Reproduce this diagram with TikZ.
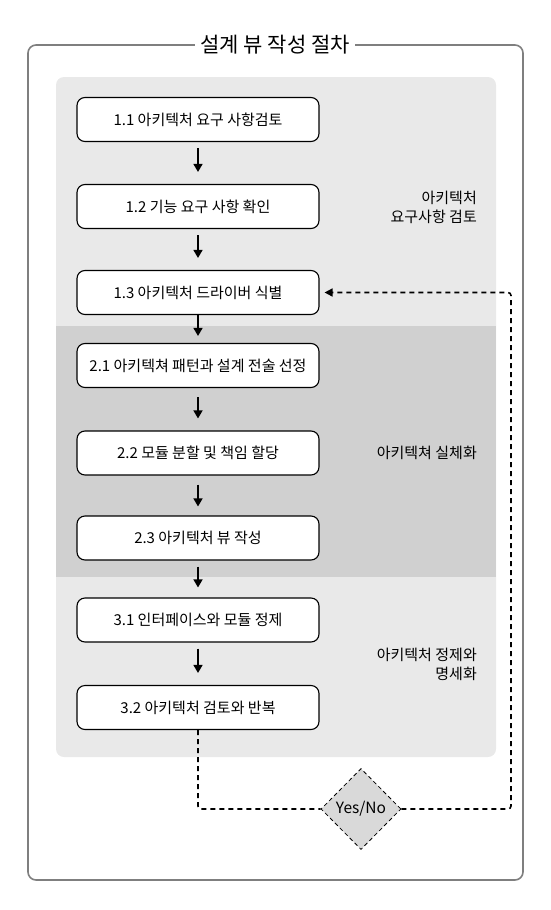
\documentclass[tikz,border=0pt]{standalone}
\usepackage{fontspec}
\setmainfont{Noto Sans CJK KR}
\usetikzlibrary{shapes.geometric,arrows.meta}
\definecolor{framegray}{HTML}{7F7F7F}
\definecolor{bandlight}{HTML}{E9E9E9}
\definecolor{banddark}{HTML}{D0D0D0}
\definecolor{diafill}{HTML}{D9D9D9}
\tikzset{
  stepbox/.style={draw=black, line width=1.1pt, rounded corners=8pt, fill=white,
    minimum width=242pt, minimum height=44pt, inner sep=0pt,
    font=\fontsize{15}{18}\selectfont},
  arr/.style={line width=1.4pt, -{Triangle[length=8pt,width=9pt]},
    shorten <=6pt, shorten >=12pt},
  fb/.style={line width=1.6pt, dash pattern=on 5pt off 4pt, rounded corners=3pt},
  seclabel/.style={anchor=east, align=right, inner sep=0pt,
    font=\fontsize{15}{19}\selectfont},
}
\begin{document}
\begin{tikzpicture}[x=1pt,y=-1pt]
\useasboundingbox (0,0) rectangle (551,910);
% outer frame
\draw[framegray, line width=1.6pt, rounded corners=8pt] (28,45) rectangle (523,880);
\node[fill=white, inner xsep=5pt, inner ysep=2pt, font=\fontsize{21}{24}\selectfont] (title) at (275,45) {설계 뷰 작성 절차};
% bands
\fill[bandlight, rounded corners=8pt] (56,77) rectangle (496,757);
\fill[banddark] (56,326) rectangle (496,577);
% section labels
\node[seclabel] (lab1) at (477,207) {아키텍처\\요구사항 검토};
\node[seclabel] (lab2) at (477,453) {아키텍쳐 실체화};
\node[seclabel] (lab3) at (477,664) {아키텍처 정제와\hspace{5pt}\\명세화};
% steps
\node[stepbox] (b11) at (198,119.5) {1.1 아키텍처 요구 사항검토};
\node[stepbox] (b12) at (198,206.5) {1.2 기능 요구 사항 확인};
\node[stepbox] (b13) at (198,292.5) {1.3 아키텍처 드라이버 식별};
\node[stepbox] (b21) at (198,365.5) {2.1 아키텍쳐 패턴과 설계 전술 선정};
\node[stepbox] (b22) at (198,453) {2.2 모듈 분할 및 책임 할당};
\node[stepbox] (b23) at (198,538) {2.3 아키텍처 뷰 작성};
\node[stepbox] (b31) at (198,620) {3.1 인터페이스와 모듈 정제};
\node[stepbox] (b32) at (198,707.5) {3.2 아키텍처 검토와 반복};
% arrows
\draw[arr] (b11) -- (b12);
\draw[arr] (b12) -- (b13);
\draw[arr, shorten <=0pt, shorten >=7pt] (b13) -- (b21);
\draw[arr, shorten <=9pt] (b21) -- (b22);
\draw[arr, shorten <=9pt, shorten >=9pt] (b22) -- (b23);
\draw[arr, shorten >=10pt] (b23) -- (b31);
\draw[arr] (b31) -- (b32);
% decision
\node[diamond, aspect=1, draw=black, line width=0.8pt, dash pattern=on 4pt off 3pt,
  fill=diafill, minimum width=80pt, minimum height=81pt, inner sep=0pt,
  font=\fontsize{15.5}{18}\selectfont] (dia) at (361,809) {Yes/No};
\coordinate (rc) at (511,809);
\draw[fb] (b32.south) |- (dia.west);
\draw[fb, -{Triangle[length=8pt,width=8pt]}, shorten >=5pt] (dia.east) -- (rc) |- (b13.east);
\end{tikzpicture}
\end{document}
